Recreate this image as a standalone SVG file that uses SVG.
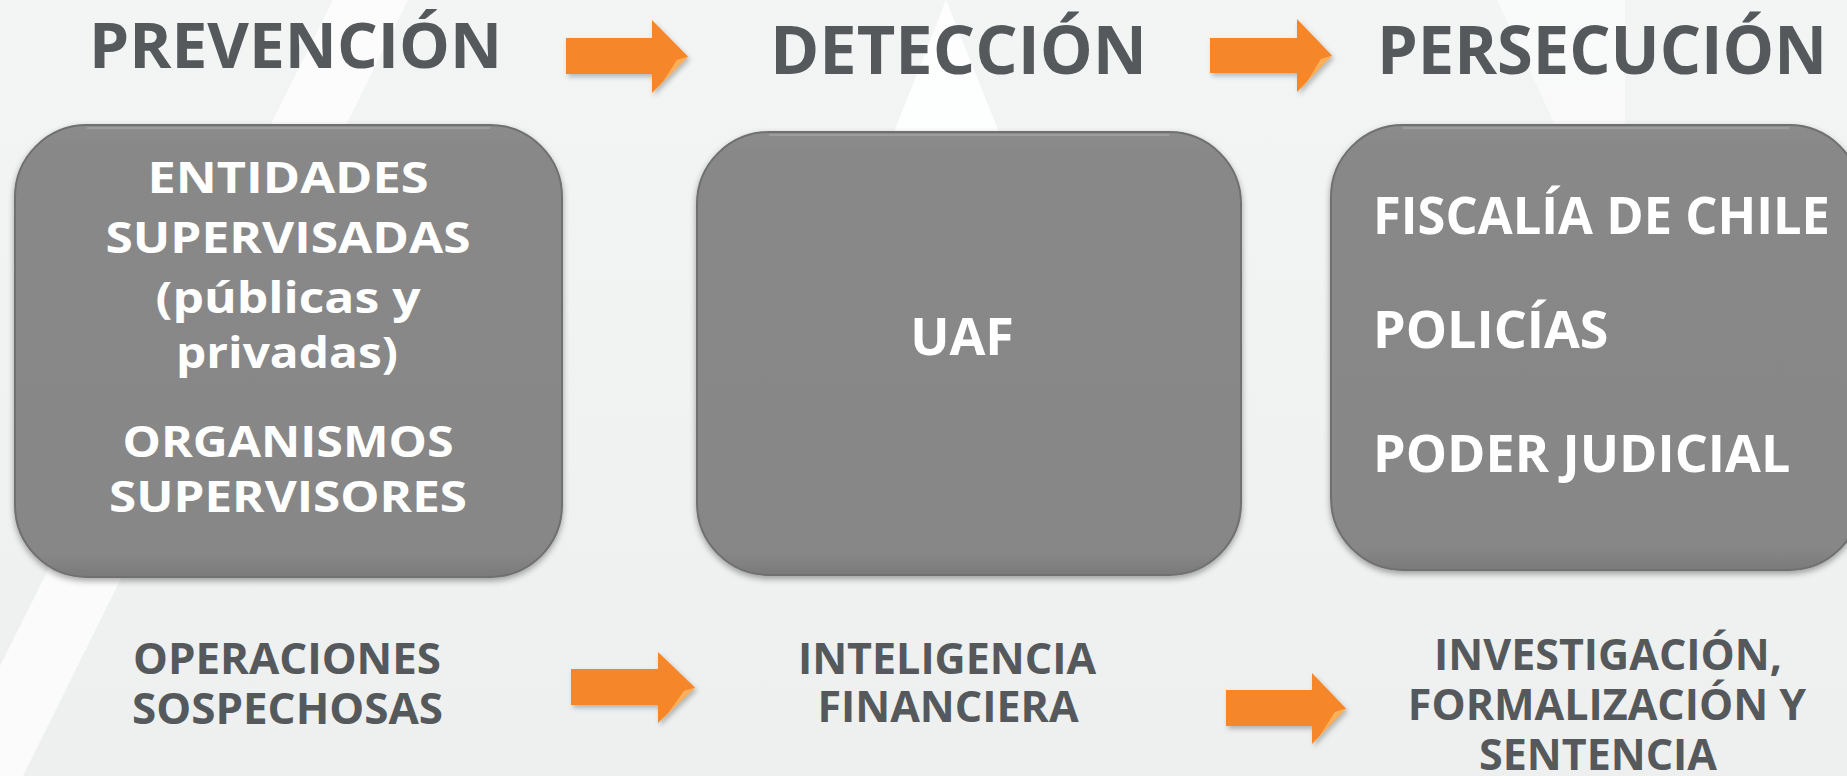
<svg xmlns="http://www.w3.org/2000/svg" width="1847" height="776" viewBox="0 0 1847 776">
<defs>
  <linearGradient id="bg" x1="0" y1="0" x2="0" y2="1">
    <stop offset="0" stop-color="#f3f4f4"/>
    <stop offset="1" stop-color="#eeefef"/>
  </linearGradient>
  <linearGradient id="boxg" x1="0" y1="0" x2="0" y2="1">
    <stop offset="0" stop-color="#8c8c8c"/>
    <stop offset="0.05" stop-color="#888888"/>
    <stop offset="0.95" stop-color="#878787"/>
    <stop offset="1" stop-color="#7a7a7a"/>
  </linearGradient>
  <linearGradient id="hl" x1="0" y1="0" x2="1" y2="1">
    <stop offset="0" stop-color="#ffd98a"/>
    <stop offset="1" stop-color="#f7902f"/>
  </linearGradient>
  <filter id="boxsh" x="-10%" y="-10%" width="120%" height="120%">
    <feDropShadow dx="0" dy="3" stdDeviation="3" flood-color="#000" flood-opacity="0.35"/>
  </filter>
  <filter id="arrsh" x="-20%" y="-20%" width="140%" height="140%">
    <feDropShadow dx="2" dy="3" stdDeviation="2.5" flood-color="#000" flood-opacity="0.25"/>
  </filter>
  <style>
    .title { font-family: "Open Sans", "Liberation Sans", sans-serif; font-weight: 700; fill: #55595c; text-anchor: middle; }
    .sub { font-family: "Open Sans", "Liberation Sans", sans-serif; font-weight: 700; fill: #55595c; text-anchor: middle; font-size: 43px; }
    .btxt { font-family: "Open Sans", "Liberation Sans", sans-serif; font-weight: 700; fill: #ffffff; }
    .box { fill: url(#boxg); stroke: #6f6f6f; stroke-width: 2; filter: url(#boxsh); }
    .boxhl { fill: none; stroke: #a5a5a5; stroke-width: 2; opacity: 0.7; }
    .arrow { fill: #f5872b; filter: url(#arrsh); }
    .ahl { fill: url(#hl); }
  </style>
</defs>

<rect x="0" y="0" width="1847" height="776" fill="url(#bg)"/>
<polygon points="333,0 408,0 23,776 -55,776" fill="#ffffff" opacity="0.75"/>
<polygon points="946,0 999,132 894,132" fill="#ffffff" opacity="0.85"/>
<polygon points="1497,0 1625,0 1625,125 1555,125" fill="#ffffff" opacity="0.5"/>

<g id="title-prevencion"><text class="title" x="295.5" y="68" font-size="63" textLength="413" lengthAdjust="spacingAndGlyphs">PREVENCIÓN</text></g>
<g id="title-deteccion"><text class="title" x="958.5" y="74" font-size="66" textLength="377" lengthAdjust="spacingAndGlyphs">DETECCIÓN</text></g>
<g id="title-persecucion"><text class="title" x="1602" y="74" font-size="66" textLength="450" lengthAdjust="spacingAndGlyphs">PERSECUCIÓN</text></g>

<g id="box-prevencion">
  <rect class="box" x="15" y="125" width="547" height="452" rx="72" ry="72"/>
  <path class="boxhl" d="M87,128 H490"/>
  <text class="btxt" font-size="43" text-anchor="middle" x="288" y="193" textLength="281" lengthAdjust="spacingAndGlyphs">ENTIDADES</text>
  <text class="btxt" font-size="43" text-anchor="middle" x="288" y="253" textLength="365" lengthAdjust="spacingAndGlyphs">SUPERVISADAS</text>
  <text class="btxt" font-size="43" text-anchor="middle" x="288" y="313" textLength="265" lengthAdjust="spacingAndGlyphs">(públicas y</text>
  <text class="btxt" font-size="43" text-anchor="middle" x="287" y="368" textLength="222" lengthAdjust="spacingAndGlyphs">privadas)</text>
  <text class="btxt" font-size="43" text-anchor="middle" x="288" y="457" textLength="331" lengthAdjust="spacingAndGlyphs">ORGANISMOS</text>
  <text class="btxt" font-size="43" text-anchor="middle" x="288" y="512" textLength="358" lengthAdjust="spacingAndGlyphs">SUPERVISORES</text>
</g>

<g id="box-deteccion">
  <rect class="box" x="697" y="132" width="544" height="443" rx="72" ry="72"/>
  <path class="boxhl" d="M769,135 H1169"/>
  <text class="btxt" x="962" y="355" font-size="52" text-anchor="middle">UAF</text>
</g>

<g id="box-persecucion">
  <rect class="box" x="1331" y="125" width="530" height="445" rx="72" ry="72"/>
  <path class="boxhl" d="M1403,128 H1789"/>
  <text class="btxt" font-size="52" x="1373" y="234" textLength="457" lengthAdjust="spacingAndGlyphs">FISCALÍA DE CHILE</text>
  <text class="btxt" font-size="52" x="1373" y="348">POLICÍAS</text>
  <text class="btxt" font-size="52" x="1373" y="472">PODER JUDICIAL</text>
</g>

<g id="label-operaciones">
  <text class="sub" x="287" y="674" textLength="308" lengthAdjust="spacingAndGlyphs">OPERACIONES</text>
  <text class="sub" x="287.5" y="724" textLength="311" lengthAdjust="spacingAndGlyphs">SOSPECHOSAS</text>
</g>
<g id="label-inteligencia">
  <text class="sub" x="947" y="674">INTELIGENCIA</text>
  <text class="sub" x="948" y="722">FINANCIERA</text>
</g>
<g id="label-investigacion">
  <text class="sub" font-size="42" x="1608" y="670">INVESTIGACIÓN,</text>
  <text class="sub" font-size="42" x="1607" y="720">FORMALIZACIÓN Y</text>
  <text class="sub" font-size="42" x="1598" y="770">SENTENCIA</text>
</g>

<g id="connectors">
  <g id="arrow-top-1">
    <path class="arrow" d="M566,38 H652 V20 L688,56.5 L652,93 V74 H566 Z"/>
    <path class="ahl" d="M688,56.5 L677,60 L660,86 L652,93 Z" opacity="0.85"/>
  </g>
  <g id="arrow-top-2">
    <path class="arrow" d="M1210,38 H1297 V19 L1332,55.5 L1297,92 V73 H1210 Z"/>
    <path class="ahl" d="M1332,55.5 L1321,59 L1305,85 L1297,92 Z" opacity="0.85"/>
  </g>
  <g id="arrow-bottom-1">
    <path class="arrow" d="M571,669 H658 V652 L695,687.5 L658,723 V705 H571 Z"/>
    <path class="ahl" d="M695,687.5 L684,691 L666,716 L658,723 Z" opacity="0.85"/>
  </g>
  <g id="arrow-bottom-2">
    <path class="arrow" d="M1226,690 H1312 V673 L1346,708.5 L1312,744 V726 H1226 Z"/>
    <path class="ahl" d="M1346,708.5 L1335,712 L1319,737 L1312,744 Z" opacity="0.85"/>
  </g>
</g>
</svg>
